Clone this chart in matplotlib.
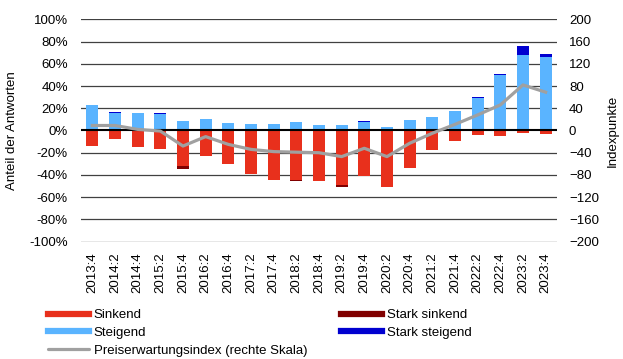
import matplotlib
matplotlib.use("Agg")
import matplotlib.pyplot as plt
from matplotlib.lines import Line2D
import numpy as np

plt.rcParams['font.family'] = ['Liberation Sans', 'DejaVu Sans']

quarters = ["2013:4", "2014:2", "2014:4", "2015:2", "2015:4", "2016:2", "2016:4",
            "2017:2", "2017:4", "2018:2", "2018:4", "2019:2", "2019:4", "2020:2",
            "2020:4", "2021:2", "2021:4", "2022:2", "2022:4", "2023:2", "2023:4"]
# Anteile in % (sinkend als positive Beträge, unten negativ gezeichnet)
steigend = [22.8, 15.8, 15.6, 15.2, 8.4, 9.9, 6.6, 5.7, 5.7, 7.5, 4.8,
            4.8, 7.8, 3.0, 9.1, 12.2, 17.5, 28.9, 49.6, 68.0, 65.9]
stark_steigend = [0, 0.4, 0, 0.4, 0, 0.4, 0, 0, 0, 0.2, 0,
                  0, 0.4, 0, 0.2, 0.3, 0.4, 1.3, 1.6, 8.0, 3.0]
sinkend = [14.0, 7.8, 14.7, 17.0, 31.8, 23.4, 30.6, 39.6, 44.4, 45.0, 45.3,
           49.5, 41.0, 50.7, 34.2, 17.7, 9.6, 4.2, 4.8, 2.1, 3.3]
stark_sinkend = [0, 0, 0, 0, 3.0, 0, 0, 0, 0, 0.3, 0,
                 1.2, 0.3, 0, 0, 0, 0, 0, 0, 0, 0]
# Preiserwartungsindex (rechte Skala)
index = [9, 9, 2, -1, -28, -11, -25, -34, -38, -39, -40,
         -47, -32, -47, -23, -5, 11, 28, 46, 82, 69]

c_sink = "#e8301c"
c_stark_sink = "#800000"
c_steig = "#5ab4ff"
c_stark_steig = "#0000d0"
c_line = "#a0a0a0"

x = np.arange(len(quarters))
steig = np.array(steigend)
sink = -np.array(sinkend)

fig = plt.figure(figsize=(6.23, 3.59), dpi=100)
ax = fig.add_axes([0.130, 0.327, 0.764, 0.619])

w = 0.52
ax.bar(x, steig, w, color=c_steig, zorder=3)
ax.bar(x, stark_steigend, w, bottom=steig, color=c_stark_steig, zorder=3)
ax.bar(x, sink, w, color=c_sink, zorder=3)
ax.bar(x, -np.array(stark_sinkend), w, bottom=sink, color=c_stark_sink, zorder=3)

ax.set_xlim(-0.5, len(quarters) - 0.5)
ax.set_ylim(-100, 100)
ax.set_yticks(np.arange(-100, 101, 20))
ax.set_yticklabels([f"{v}%" for v in range(-100, 101, 20)])
ax.set_xticks(x)
ax.set_xticklabels(quarters, rotation=90)
ax.tick_params(length=0, labelsize=9.5)
ax.tick_params(axis='y', pad=9.4)
ax.tick_params(axis='x', pad=8)
for v in range(-100, 101, 20):
    if v != 0:
        ax.axhline(v, color="#404040", lw=0.9, zorder=1)
ax.axhline(0, color="black", lw=1.5, zorder=4)
for s in ax.spines.values():
    s.set_visible(False)

ax2 = ax.twinx()
ax2.plot(x, index, color=c_line, lw=2.3, zorder=5)
ax2.set_ylim(-200, 200)
ax2.set_yticks(np.arange(-200, 201, 40))
ax2.tick_params(length=0, labelsize=9.5, pad=8.6)
for s in ax2.spines.values():
    s.set_visible(False)

fig.text(0.019, 0.636, "Anteil der Antworten", rotation=90, ha='center', va='center', fontsize=9.5)
fig.text(0.984, 0.636, "Indexpunkte", rotation=90, ha='center', va='center', fontsize=9.5)

h_left = [Line2D([], [], color=c_sink, lw=4.5),
          Line2D([], [], color=c_steig, lw=4.5),
          Line2D([], [], color=c_line, lw=2.3, solid_capstyle='round')]
l_left = ["Sinkend", "Steigend", "Preiserwartungsindex (rechte Skala)"]
h_right = [Line2D([], [], color=c_stark_sink, lw=4.5),
           Line2D([], [], color=c_stark_steig, lw=4.5)]
l_right = ["Stark sinkend", "Stark steigend"]
leg_kw = dict(loc='upper left', frameon=False, fontsize=9.5, handlelength=3.1,
              handletextpad=0.38, labelspacing=0.42, borderpad=0, borderaxespad=0)
fig.legend(h_left, l_left, bbox_to_anchor=(0.077, 0.139), **leg_kw)
fig.legend(h_right, l_right, bbox_to_anchor=(0.547, 0.139), **leg_kw)

fig.savefig("out.png", dpi=100)
